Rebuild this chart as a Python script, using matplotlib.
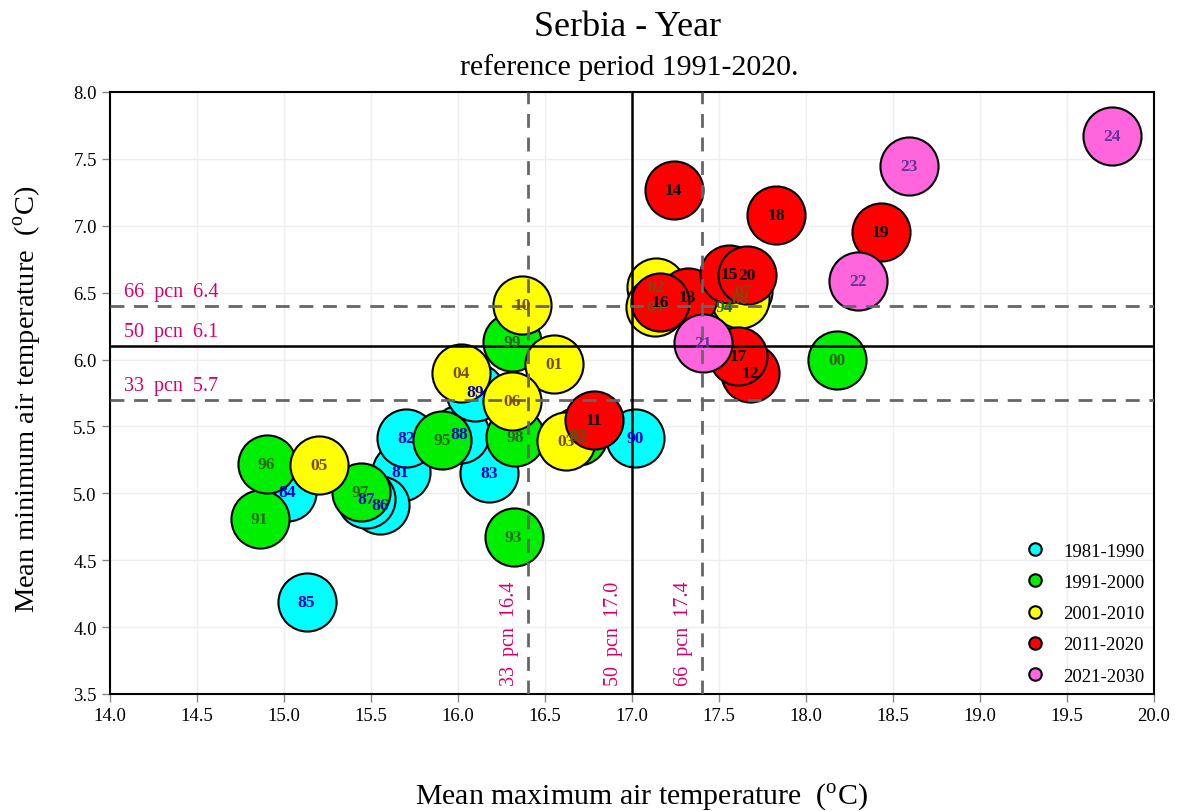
import numpy as np
import matplotlib
matplotlib.use("Agg")
import matplotlib.pyplot as plt
from matplotlib.lines import Line2D

plt.rcParams['font.family'] = ['Liberation Serif', 'DejaVu Serif']
plt.rcParams['mathtext.fontset'] = 'custom'
plt.rcParams['mathtext.rm'] = 'Liberation Serif'

# year labels (two digits), mean max temp (x), mean min temp (y)
years = ['81', '82', '83', '84', '85', '86', '87', '88', '89', '90',
         '91', '92', '93', '94', '95', '96', '97', '98', '99', '00',
         '01', '02', '03', '04', '05', '06', '07', '08', '09', '10',
         '11', '12', '13', '14', '15', '16', '17', '18', '19', '20',
         '21', '22', '23', '24']
tmax = [15.67, 15.70, 16.18, 15.02, 15.13, 15.55, 15.47, 16.01, 16.10, 17.02,
        14.86, 16.69, 16.32, 17.53, 15.91, 14.90, 15.44, 16.33, 16.31, 18.18,
        16.55, 17.14, 16.62, 16.02, 15.20, 16.31, 17.64, 17.62, 17.13, 16.37,
        16.78, 17.68, 17.32, 17.24, 17.56, 17.16, 17.61, 17.83, 18.43, 17.66,
        17.41, 18.30, 18.59, 19.76]
tmin = [5.16, 5.41, 5.15, 5.01, 4.19, 4.91, 4.96, 5.44, 5.76, 5.41,
        4.81, 5.43, 4.67, 6.39, 5.40, 5.22, 5.01, 5.42, 6.13, 6.00,
        5.97, 6.54, 5.39, 5.90, 5.21, 5.69, 6.51, 6.45, 6.39, 6.41,
        5.55, 5.90, 6.47, 7.27, 6.64, 6.43, 6.03, 7.08, 6.95, 6.63,
        6.12, 6.59, 7.45, 7.67]

decades = ['1981-1990', '1991-2000', '2001-2010', '2011-2020', '2021-2030']
face_cols = ['#00FFFF', '#00EE00', '#FFFF00', '#FF0000', '#FF66DD']
text_cols = ['#0000CC', '#2A6A1A', '#7A4A10', '#000000', '#663399']

# percentiles of reference period
pcn_x = [16.4, 17.0, 17.4]
pcn_y = [5.7, 6.1, 6.4]
pcn_names = ['33', '50', '66']

pink = '#D6006E'

fig = plt.figure(figsize=(11.79, 8.12), dpi=100)
ax = fig.add_axes([0.0933, 0.1441, 0.8855, 0.7414])

ax.set_xlim(14.0, 20.0)
ax.set_ylim(3.5, 8.0)
ax.set_xticks(np.arange(14.0, 20.01, 0.5))
ax.set_yticks(np.arange(3.5, 8.01, 0.5))
ax.set_xticklabels(['%.1f' % v for v in np.arange(14.0, 20.01, 0.5)])
ax.set_yticklabels(['%.1f' % v for v in np.arange(3.5, 8.01, 0.5)])
ax.tick_params(labelsize=13.5, direction='out', length=6, color='#888888', width=1)
ax.grid(True, color='#EEEEEE', lw=1)
ax.set_axisbelow(True)
for sp in ax.spines.values():
    sp.set_linewidth(1.5)
    sp.set_color('black')

# percentile lines
for i, (px, py, nm) in enumerate(zip(pcn_x, pcn_y, pcn_names)):
    if nm == '50':
        kw = dict(color='black', lw=1.8, ls='-')
    else:
        kw = dict(color='#666666', lw=2.0, ls=(0, (5, 3.5)))
    ax.axvline(px, zorder=6, **kw)
    ax.axhline(py, zorder=6, **kw)
    ax.text(14.08, py + 0.035, '%s  pcn  %.1f' % (nm, py), color=pink,
            fontsize=14.5, ha='left', va='bottom', zorder=7)
    ax.text(px - 0.05, 3.57, '%s  pcn  %.1f' % (nm, px), color=pink,
            fontsize=14.5, rotation=90, ha='right', va='bottom', zorder=7)

# circles, drawn in chronological order
for yr, x, y in zip(years, tmax, tmin):
    full = int(yr) + (1900 if int(yr) > 50 else 2000)
    d = (full - 1981) // 10
    ax.scatter(x, y, s=1750, c=face_cols[d], edgecolors='black',
               linewidths=1.5, zorder=3)
for yr, x, y in zip(years, tmax, tmin):
    full = int(yr) + (1900 if int(yr) > 50 else 2000)
    d = (full - 1981) // 10
    ax.text(x, y, yr, color=text_cols[d], fontsize=12.5, fontweight='bold',
            ha='center', va='center', zorder=8)

handles = [Line2D([], [], marker='o', ls='none', markersize=9,
                  markerfacecolor=c, markeredgecolor='black',
                  markeredgewidth=1.5) for c in face_cols]
ax.legend(handles, decades, loc='lower right', bbox_to_anchor=(1.0, 0.0),
          frameon=False, fontsize=13.5, labelspacing=0.75, handletextpad=0.5,
          borderaxespad=0.1)

fig.text(0.532, 0.966, 'Serbia - Year', ha='center', va='center', fontsize=26)
fig.text(0.534, 0.917, 'reference period 1991-2020.', ha='center', va='center', fontsize=21.5)
fig.text(0.544, 0.018, r'Mean maximum air temperature  ($^{\rm o}$C)',
         ha='center', va='center', fontsize=21.5)
fig.text(0.024, 0.508, r'Mean minimum air temperature  ($^{\rm o}$C)',
         ha='center', va='center', fontsize=20.5, rotation=90)

fig.savefig('out.png', dpi=100)
